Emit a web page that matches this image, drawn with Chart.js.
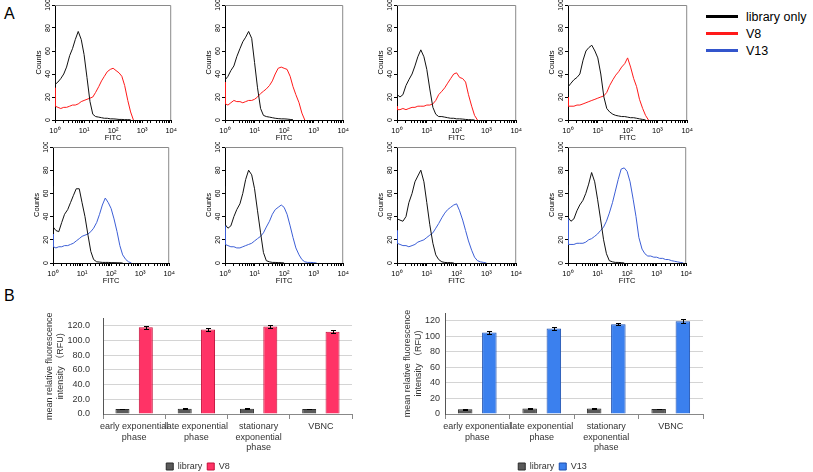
<!DOCTYPE html>
<html><head><meta charset="utf-8">
<script src="https://cdn.jsdelivr.net/npm/chart.js@4"></script>
<style>
html,body{margin:0;padding:0;width:813px;height:472px;overflow:hidden;background:#fff;position:relative;}
canvas{position:absolute;}
.lbl{position:absolute;font-family:'Liberation Sans',Arial,sans-serif;color:#000;}
#legendA{position:absolute;left:706px;top:8px;font-family:'Liberation Sans',Arial,sans-serif;font-size:12.5px;color:#000;}
#legendA .row{height:17px;display:flex;align-items:center;}
#legendA .sw{width:32px;height:3px;margin-right:8px;}
</style></head><body>
<div class="lbl" style="left:4px;top:5px;font-size:16px;">A</div>
<div class="lbl" style="left:4px;top:287px;font-size:16px;">B</div>
<div id="legendA">
 <div class="row"><span class="sw" style="background:#000"></span>library only</div>
 <div class="row"><span class="sw" style="background:#ff1a1a"></span>V8</div>
 <div class="row"><span class="sw" style="background:#3355cc"></span>V13</div>
</div>
<script>
// ---------- Panel A: flow cytometry histograms (FITC channel, counts) ----------
const fitc = [1,1.02,1.26,1.58,2,2.5,3.2,4,5,6.3,8,10,12.6,16,20,25,32,40,50,63,80,100,126,160,200,250,320,400,500,630,800,1000,1260,1600,2000,2500,3200,4000,5000,6300,8000,10000];
const xTickPowers = ['10⁰','10¹','10²','10³','10⁴'];

// top row: library only vs V8
const libTop1 = [63,31,33,36,40,46,56,62,70,77,70,57,37,16,5,3,2.5,2,1.5,1.5,1,1,0.8,0.5,0.5,0.3,0.3,0.2];
const v8Top1  = [28,12,11,10,11,11,12,13,13,14,16,17,18,19,20,24,29,34,38,42,44,45,43,41,38,30,17,7,0];
const libTop2 = [68,35,38,43,47,55,62,68,72,77,71,50,28,10,4,3,2.5,2,1.5,1.2,1,1,0.8,0.5,0.2];
const v8Top2  = [33,14,13,15,17,16,16,15,16,17,17,18,20,23,25,27,30,34,40,45,46,45,44,38,29,22,15,6,0];
const libTop3 = [60,22,20,22,30,35,40,47,55,61,55,44,27,11,5,3,3,2.5,2,1.5,1.5,1,1,0.8,0.5,0.3,0.2,0];
const v8Top3  = [12,9,9,10,9,10,11,11,12,12,12,13,13,14,17,22,25,28,32,36,40,41,37,36,33,22,12,4,0];
const libTop4 = [62,29,32,35,37,40,52,60,63,65,60,54,40,20,10,7,5,4,3.5,3,3,2.5,2,2,1.5,1,0.5,0];
const v8Top4  = [20,12,12,12,13,13,14,15,16,17,18,19,20,21,24,30,35,39,42,46,49,54,46,36,29,18,10,4,0];
// bottom row: library only vs V13
const libBot1 = [66,31,28,27,35,42,46,52,58,64,64,52,40,24,10,3,1,0.8,0.5,0.5,0.5,0.3,0.3,0.2,0.2,0];
const v13Bot1 = [25,14,13,14,14,15,15,16,17,19,21,23,24,25,27,30,35,42,50,56,52,47,38,27,15,7,3,1,0];
const libBot2 = [66,33,30,32,40,46,51,60,72,80,76,64,45,26,9,2,1,0.5,0.5,0.3,0.3,0];
const v13Bot2 = [33,16,15,14,14,13,13,14,15,16,17,19,21,23,26,31,36,42,46,48,50,48,42,32,22,13,7,3,1,0.5,0.5,0.3,0];
const libBot3 = [55,38,37,36,40,52,60,70,75,80,70,52,33,17,7,3,1,0.5,0.3,0.3,0];
const v13Bot3 = [28,17,16,15,15,14,15,16,18,19,20,22,24,26,30,34,39,43,46,48,50,51,45,37,28,19,11,5,2,1,0.5,0];
const libBot4 = [67,39,36,38,45,50,54,60,68,78,70,55,38,20,8,2,1,0.5,0.5,0.3,0];
const v13Bot4 = [58,16,16,16,17,17,17,18,20,21,23,25,28,31,36,43,52,62,72,81,82,79,70,55,40,22,12,8,6,6,5,5,4,4,3,3,2,1.5,1,0.5,0];

// ---------- Panel B: mean relative fluorescence intensity ----------
const phases = [["early exponential","phase"],["late exponential","phase"],["stationary","exponential","phase"],["VBNC"]];
const libraryV8 = [6.8,7.2,7.2,6.8];
const libraryV8Err = [0.5,0.7,0.7,0.5];
const v8Mean = [118,115,119,112];
const v8Err = [2,1.5,1.5,2.5];
const libraryV13 = [6,7,7,6.5];
const libraryV13Err = [1,0.8,0.8,0.5];
const v13Mean = [105,110,115.5,119.5];
const v13Err = [2,2,1,3];
const barTickValues = [0,20,40,60,80,100,120];
const barTicksA = v => v.toFixed(1);
const barTicksB = v => String(v);

const RED = '#ff1a1a', BLUE = '#3d5fd6', BLK = '#111111';
const histFont = {family:"'Liberation Sans', Arial, sans-serif", size:7.5};

function makeCanvas(left, top, w, h){
  const c = document.createElement('canvas');
  c.width = w; c.height = h;
  c.style.left = left + 'px'; c.style.top = top + 'px';
  c.style.width = w + 'px'; c.style.height = h + 'px';
  document.body.appendChild(c);
  return c;
}
function pts(arr){ return arr.map((y, i) => ({x: fitc[i], y})); }

const histDecor = {
  id: 'histDecor',
  afterDraw(chart){
    const {ctx, chartArea: a, scales: {y}} = chart;
    ctx.save();
    ctx.strokeStyle = '#8a8a8a'; ctx.lineWidth = 1;
    ctx.beginPath();
    ctx.moveTo(a.left, a.top + 0.5); ctx.lineTo(a.right - 0.5, a.top + 0.5); ctx.lineTo(a.right - 0.5, a.bottom);
    ctx.stroke();
    ctx.fillStyle = '#000';
    ctx.font = "7px 'Liberation Sans', Arial, sans-serif";
    ctx.textAlign = 'center'; ctx.textBaseline = 'bottom';
    y.ticks.forEach(t => {
      const py = y.getPixelForValue(t.value);
      ctx.save(); ctx.translate(a.left - 3, py); ctx.rotate(-Math.PI / 2);
      ctx.fillText(String(t.value), 0, 0); ctx.restore();
    });
    ctx.restore();
  }
};

const panels = [
  {l:55, t:5,  r:175, b:120, lib:libTop1, probe:v8Top1, color:RED},
  {l:225,t:5,  r:347, b:120, lib:libTop2, probe:v8Top2, color:RED},
  {l:397,t:5,  r:520, b:120, lib:libTop3, probe:v8Top3, color:RED},
  {l:568,t:5,  r:691, b:120, lib:libTop4, probe:v8Top4, color:RED},
  {l:53, t:147,r:173, b:263, lib:libBot1, probe:v13Bot1, color:BLUE},
  {l:225,t:147,r:347, b:263, lib:libBot2, probe:v13Bot2, color:BLUE},
  {l:397,t:147,r:520, b:263, lib:libBot3, probe:v13Bot3, color:BLUE},
  {l:568,t:147,r:690, b:263, lib:libBot4, probe:v13Bot4, color:BLUE}
];
const YW = 21, XH = 22, PT = 5, PR = 5;
panels.forEach(p => {
  const w = (p.r - p.l) + YW + PR, h = (p.b - p.t) + PT + XH;
  const c = makeCanvas(p.l - YW, p.t - PT, w, h);
  new Chart(c, {
    type: 'line',
    data: {datasets: [
      {data: pts(p.lib), borderColor: BLK, borderWidth: 1, pointRadius: 0, tension: 0},
      {data: pts(p.probe), borderColor: p.color, borderWidth: 1, pointRadius: 0, tension: 0}
    ]},
    options: {
      responsive: false, animation: false, devicePixelRatio: 1, events: [],
      layout: {padding: {top: PT, right: PR, left: 0, bottom: 0}},
      plugins: {legend: {display: false}, tooltip: {enabled: false}},
      scales: {
        x: {type: 'logarithmic', min: 1, max: 10000, offset: false,
            border: {color: '#000', width: 1},
            grid: {drawOnChartArea: false, tickLength: 3, color: '#000'},
            ticks: {autoSkip: false, maxRotation: 0, padding: 3, color: '#000', font: histFont,
                    callback: v => { const e = Math.log10(v); const r = Math.round(e); return Math.abs(e - r) < 1e-6 ? xTickPowers[r] : ''; }},
            title: {display: true, text: 'FITC', color: '#000', font: histFont, padding: 0},
            afterFit: s => { s.height = XH; }},
        y: {min: 0, max: 100,
            border: {color: '#000', width: 1},
            grid: {drawOnChartArea: false, tickLength: 3, color: '#000'},
            ticks: {stepSize: 20, display: false},
            title: {display: true, text: 'Counts', color: '#000', font: histFont, padding: 0},
            afterFit: s => { s.width = YW; }}
      }
    },
    plugins: [histDecor]
  });
});

// ---------- bar charts ----------
const errorBars = {
  id: 'errorBars',
  afterDatasetsDraw(chart){
    const {ctx, scales: {y}} = chart;
    ctx.save(); ctx.strokeStyle = '#000'; ctx.lineWidth = 1;
    chart.data.datasets.forEach((ds, di) => {
      if (!ds.errors) return;
      chart.getDatasetMeta(di).data.forEach((bar, i) => {
        const v = ds.data[i], e = ds.errors[i];
        const x = Math.round(bar.x) + 0.5;
        const yT = Math.round(y.getPixelForValue(v + e)) + 0.5, yB = Math.round(y.getPixelForValue(v - e)) + 0.5;
        ctx.beginPath();
        ctx.moveTo(x, yT); ctx.lineTo(x, yB);
        ctx.moveTo(x - 2.5, yT); ctx.lineTo(x + 2.5, yT);
        ctx.moveTo(x - 2.5, yB); ctx.lineTo(x + 2.5, yB);
        ctx.stroke();
      });
    });
    ctx.restore();
  }
};
const barFont = {family: "'Liberation Sans','Noto Sans CJK SC',sans-serif", size: 9};
function barChart(canvas, lib, libErr, probe, probeErr, probeLabel, fill, border, tickCb, pad, yW){
  return new Chart(canvas, {
    type: 'bar',
    data: {labels: phases, datasets: [
      {label: 'library', data: lib, errors: libErr, backgroundColor: '#5a5a5a', borderColor: '#2a2a2a', borderWidth: 1,
       categoryPercentage: 0.75, barPercentage: 0.6},
      {label: probeLabel, data: probe, errors: probeErr, backgroundColor: fill, borderColor: border, borderWidth: 1,
       categoryPercentage: 0.75, barPercentage: 0.6}
    ]},
    options: {
      responsive: false, animation: false, devicePixelRatio: 1, events: [],
      layout: {padding: {left: pad.left, right: pad.right, top: pad.top, bottom: 0}},
      plugins: {
        legend: {position: 'bottom', labels: {boxWidth: 7, boxHeight: 7, padding: 5, color: '#333', font: barFont}},
        tooltip: {enabled: false}
      },
      scales: {
        x: {grid: {offset: true, drawOnChartArea: false, tickLength: 5, color: '#888'},
            border: {color: '#888'},
            ticks: {color: '#333', font: barFont, maxRotation: 0, autoSkip: false, padding: 2},
            afterFit: s => { s.height = 43; }},
        y: {min: 0, max: 130,
            border: {color: '#555'},
            grid: {drawTicks: false, color: '#d4d4d4'},
            ticks: {callback: tickCb, color: '#333', font: barFont, padding: pad.tickPad},
            afterBuildTicks: s => { s.ticks = barTickValues.map(v => ({value: v})); },
            title: {display: true, text: ['mean relative fluorescence', 'intensity （RFU)'], color: '#333', font: barFont, padding: 0},
            afterFit: s => { s.width = yW; }}
      }
    },
    plugins: [errorBars]
  });
}
const cA = makeCanvas(0, 300, 410, 181);
barChart(cA, libraryV8, libraryV8Err, v8Mean, v8Err, 'V8', '#ff3366', '#c4103a', barTicksA,
  {left: 44, right: 58, top: 13, tickPad: 13}, 59);
const cB = makeCanvas(395, 300, 418, 181);
barChart(cB, libraryV13, libraryV13Err, v13Mean, v13Err, 'V13', '#3b80ee', '#1d4fae', barTicksB,
  {left: 7, right: 110, top: 13, tickPad: 5}, 43);
</script>
</body></html>
